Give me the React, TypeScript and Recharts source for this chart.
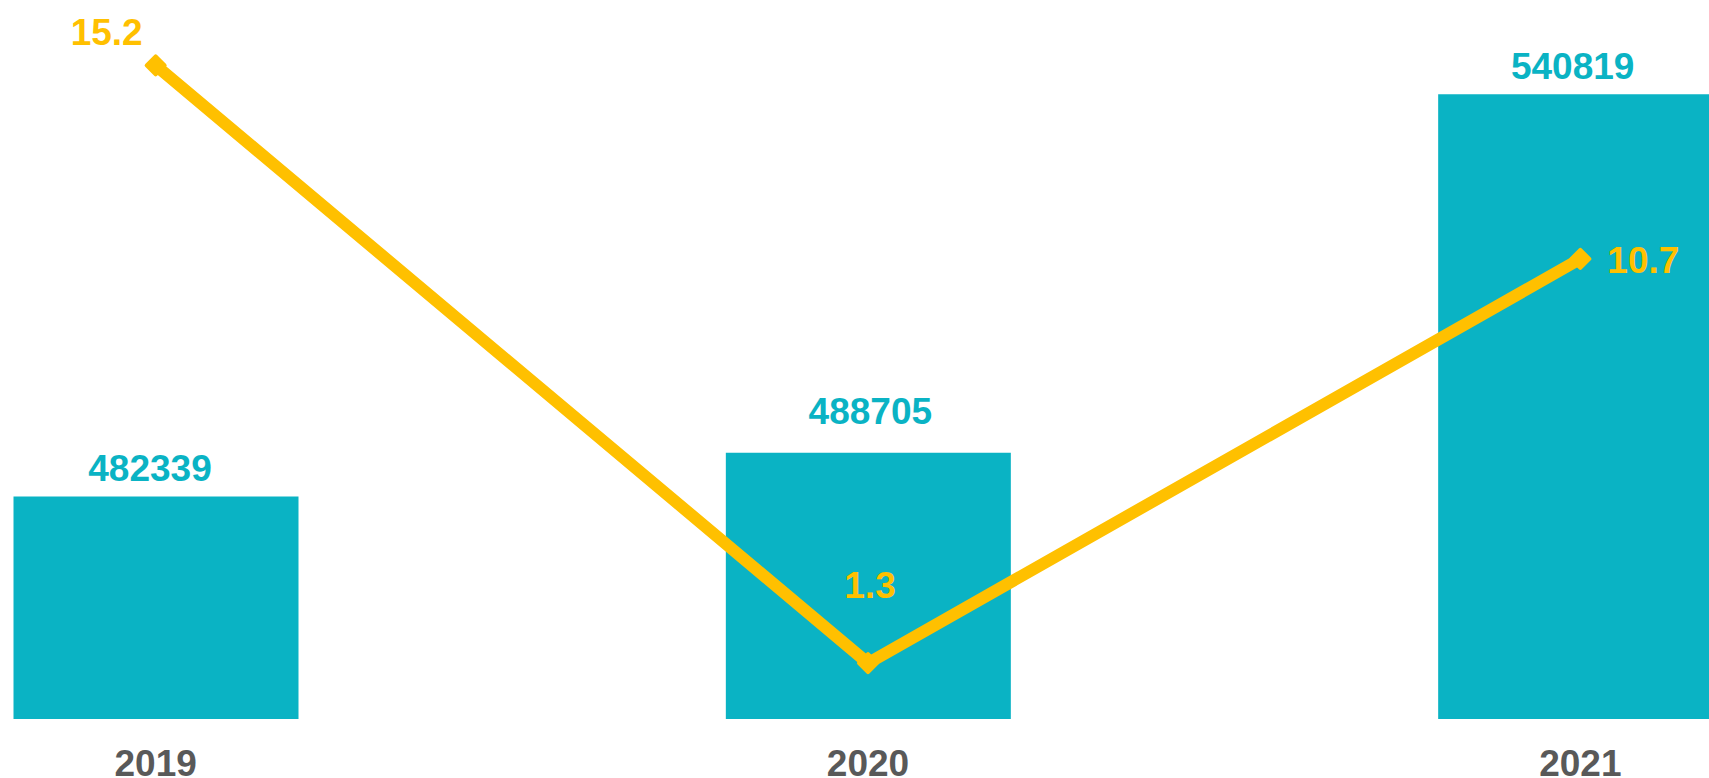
import React from 'react';
import { ComposedChart, Bar, Line, XAxis, YAxis, LabelList } from 'recharts';

const years = ['2019', '2020', '2021'];
const revenue = [482339, 488705, 540819];
const growth = [15.2, 1.3, 10.7];

const data = years.map((year, i) => ({ year, revenue: revenue[i], growth: growth[i] }));

const TEAL = '#0AB3C4';
const GOLD = '#FFC000';
const GREY = '#595959';
const FONT = '"Liberation Sans", Arial, sans-serif';

// label placement tweaks (styling, not data)
const barLabelPlace = [
  { dx: -6, lift: 16 },
  { dx: 2, lift: 29 },
  { dx: -8, lift: 15 },
];
const lineLabelPlace = [
  { dx: -49, dy: -20, anchor: 'middle' },
  { dx: 2, dy: -65, anchor: 'middle' },
  { dx: 27, dy: 14, anchor: 'start' },
];

const XTick = (props: any) => {
  const { x, y, payload } = props;
  return (
    <text x={x} y={y + 57} textAnchor="middle" fontFamily={FONT} fontWeight="bold" fontSize={37} fill={GREY}>
      {payload.value}
    </text>
  );
};

const BarLabel = (props: any) => {
  const { x, y, width, index, value } = props;
  const p = barLabelPlace[index];
  return (
    <text
      x={x + width / 2 + p.dx}
      y={y - p.lift}
      textAnchor="middle"
      fontFamily={FONT}
      fontWeight="bold"
      fontSize={37}
      fill={TEAL}
    >
      {value}
    </text>
  );
};

const LineLabel = (props: any) => {
  const { x, y, index, value } = props;
  const p = lineLabelPlace[index];
  return (
    <text
      x={x + p.dx}
      y={y + p.dy}
      textAnchor={p.anchor}
      fontFamily={FONT}
      fontWeight="bold"
      fontSize={37}
      fill={GOLD}
    >
      {value}
    </text>
  );
};

const Diamond = (props: any) => {
  const { cx, cy } = props;
  const r = 9;
  return (
    <path
      d={`M${cx},${cy - r}L${cx + r},${cy}L${cx},${cy + r}L${cx - r},${cy}Z`}
      fill={GOLD}
      stroke={GOLD}
      strokeWidth={4}
      strokeLinejoin="round"
    />
  );
};

export default function App() {
  return (
    <div style={{ position: 'absolute', left: 0, top: 0, width: 1709, height: 778, overflow: 'hidden', background: '#fff' }}>
      <ComposedChart
        width={1709}
        height={778}
        data={data}
        margin={{ top: 31, right: -227.5, bottom: 0, left: -200.5 }}
      >
        <XAxis
          dataKey="year"
          axisLine={false}
          tickLine={false}
          tickSize={0}
          tickMargin={0}
          height={59}
          tick={<XTick />}
          interval={0}
        />
        <YAxis yAxisId="left" hide domain={[450000, 550000]} />
        <YAxis yAxisId="right" orientation="right" hide domain={[0, 16]} />
        <Bar yAxisId="left" dataKey="revenue" fill={TEAL} barSize={285} isAnimationActive={false}>
          <LabelList dataKey="revenue" content={<BarLabel />} />
        </Bar>
        <Line
          yAxisId="right"
          dataKey="growth"
          stroke={GOLD}
          strokeWidth={12}
          dot={<Diamond />}
          activeDot={false}
          isAnimationActive={false}
        >
          <LabelList dataKey="growth" content={<LineLabel />} />
        </Line>
      </ComposedChart>
    </div>
  );
}
